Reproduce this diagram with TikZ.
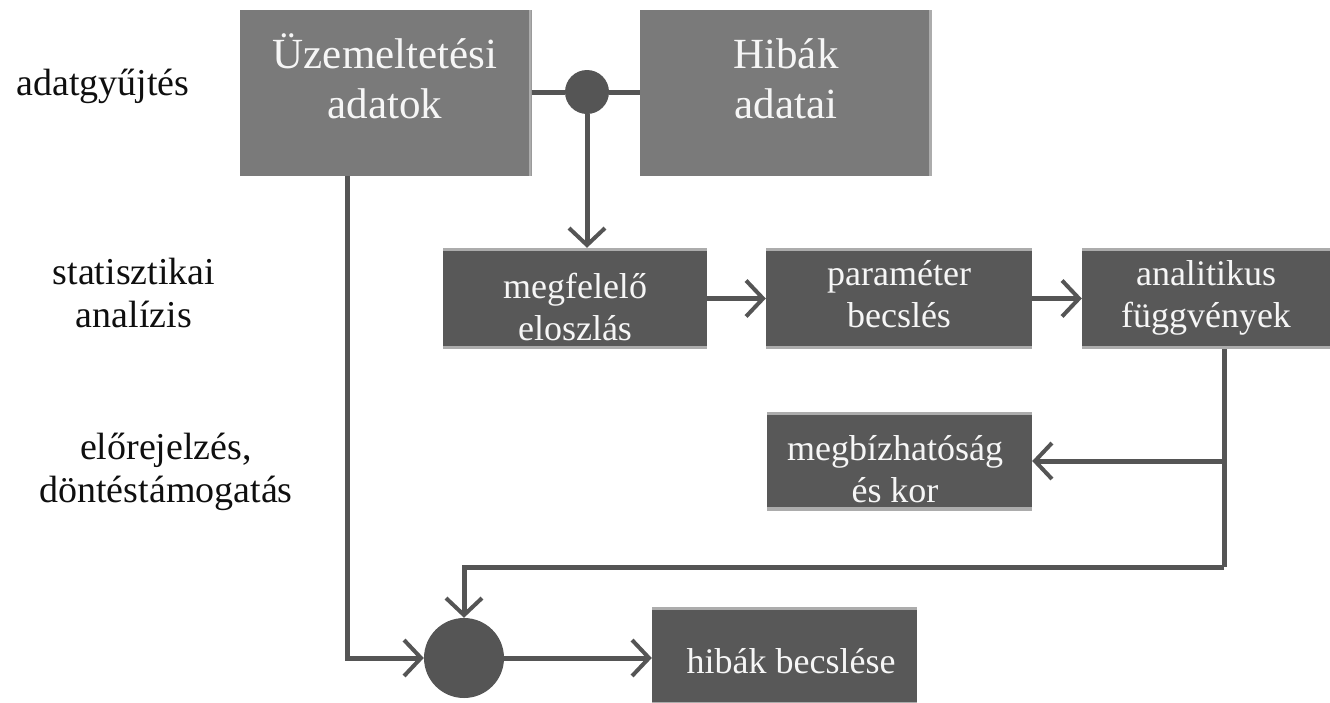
\documentclass[tikz,border=0pt]{standalone}
\usepackage{fontspec}
\setmainfont{Liberation Serif}
\usetikzlibrary{arrows.meta}
\definecolor{topgray}{RGB}{122,122,122}
\definecolor{darkbox}{RGB}{88,88,88}
\definecolor{linecol}{RGB}{85,85,85}
\definecolor{boxtext}{RGB}{246,246,246}
\definecolor{labtext}{RGB}{15,15,15}
\definecolor{edgegray}{RGB}{172,172,172}
\tikzset{
  topbox/.style={fill=topgray, draw=none, inner sep=0pt, minimum width=292pt, minimum height=166pt,
    path picture={\fill[edgegray] ([xshift=-3pt]path picture bounding box.south east) rectangle (path picture bounding box.north east);}},
  lowbox/.style={fill=darkbox, draw=none, inner sep=0pt, minimum width=265pt, minimum height=100pt,
    path picture={\fill[edgegray] (path picture bounding box.north west) rectangle ([yshift=-3pt]path picture bounding box.north east);
      \fill[edgegray] (path picture bounding box.south west) rectangle ([yshift=3.5pt]path picture bounding box.south east);}},
  dotnode/.style={circle, fill=linecol, draw=none, inner sep=0pt},
  toptext/.style={text=boxtext, align=center, anchor=base, inner sep=0pt, font=\fontsize{43}{50}\selectfont},
  lowtext/.style={text=boxtext, align=center, anchor=base, inner sep=0pt, font=\fontsize{36}{41.5}\selectfont},
  labtxt/.style={text=labtext, align=center, anchor=base, inner sep=0pt, font=\fontsize{38}{43}\selectfont},
  conn/.style={draw=linecol, line width=5pt},
  arr/.style={conn, -{Straight Barb[length=17pt, width=36pt, line width=4pt]}},
}
\begin{document}
\begin{tikzpicture}[x=1pt, y=-1pt]
\useasboundingbox (0,0) rectangle (1330,702);
% boxes
\node[topbox] (uz) at (385.5,93) {};
\node[topbox] (hib) at (786,93) {};
\node[dotnode, minimum size=44pt] (dot1) at (587,92) {};
\node[lowbox, minimum width=264pt, minimum height=101pt] (megf) at (575,298.5) {};
\node[lowbox, minimum width=266pt, minimum height=101pt] (param) at (899,298.5) {};
\node[lowbox, minimum width=248pt, minimum height=101pt] (anal) at (1206,298.5) {};
\node[lowbox, minimum width=265pt, minimum height=99pt] (megb) at (899.5,461) {};
\node[lowbox, minimum width=265pt, minimum height=98pt] (hb) at (784.5,656) {};
\node[dotnode, minimum size=80pt] (circ) at (464,658) {};
% box texts (anchor base = last line's baseline)
\node[toptext] (uzt) at (385,118) {Üzemeltetési\\adatok};
\node[toptext] (hibt) at (786,118) {Hibák\\adatai};
\node[lowtext] (megft) at (575,340) {megfelelő\\eloszlás};
\node[lowtext] (paramt) at (899,327) {paraméter\\becslés};
\node[lowtext] (analt) at (1206,327) {analitikus\\függvények};
\node[lowtext] (megbt) at (895,502) {megbízhatóság\\és kor};
\node[lowtext] (hbt) at (791,673) {hibák becslése};
% left labels
\node[labtxt] (l1) at (103,95) {adatgyűjtés};
\node[labtxt] (l2) at (134,327) {statisztikai\\analízis};
\node[labtxt] (l3) at (166,502) {előrejelzés,\\döntéstámogatás};
% connectors
\coordinate (lx) at (347,0);
\coordinate (rx) at (1224,0);
\coordinate (rj) at (1224,567);
\draw[conn] (uz.east |- dot1) -- (dot1);
\draw[conn] (dot1) -- (dot1 -| hib.west);
\draw[arr] (dot1) -- (dot1 |- megf.north);
\draw[arr] (megf) -- (param);
\draw[arr] (param) -- (anal);
\draw[conn] (anal.south -| rx) -- (rj);
\draw[arr] (megb.east -| rx) -- (megb.east);
\draw[arr] (rj) -| (circ.north);
\draw[arr] (uz.south -| lx) |- (circ.west);
\draw[arr] (circ.east) -- (circ.east -| hb.west);
\end{tikzpicture}
\end{document}
